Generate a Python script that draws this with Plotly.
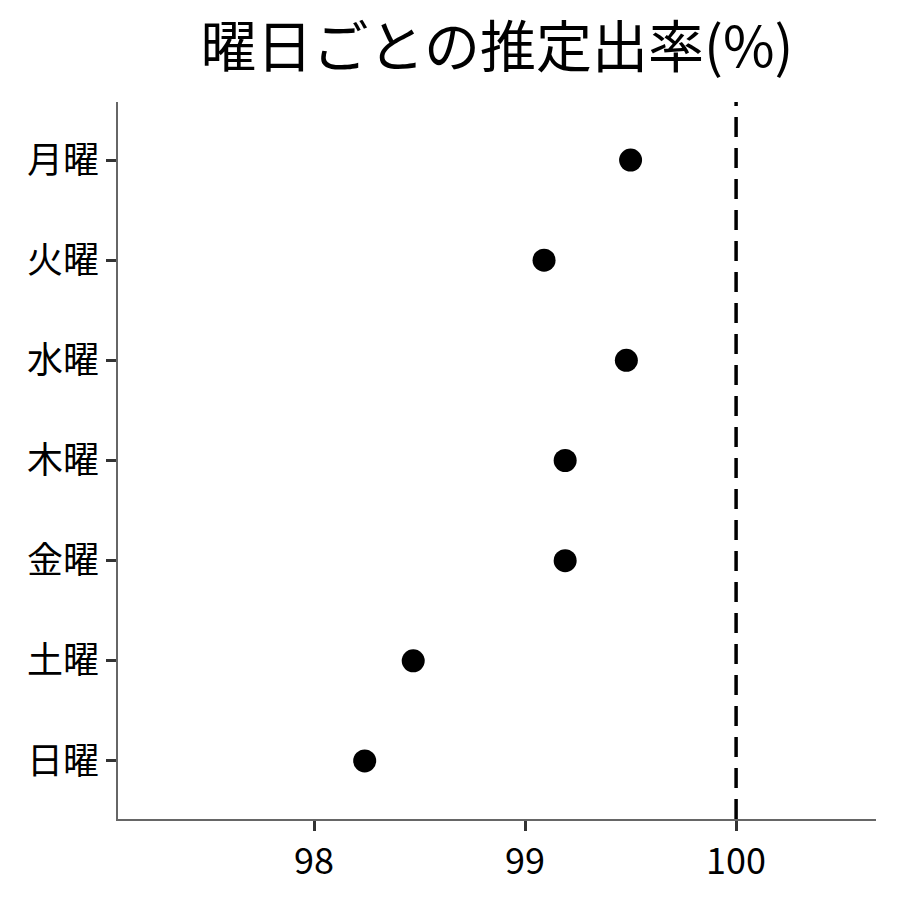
import plotly.graph_objects as go

# 曜日ごとの推定出率
days = ['月曜', '火曜', '水曜', '木曜', '金曜', '土曜', '日曜']
rates = [99.50, 99.09, 99.48, 99.19, 99.19, 98.47, 98.24]
ref_value = 100
x_ticks = [98, 99, 100]

font_family = 'Noto Sans CJK JP'

fig = go.Figure()

fig.add_trace(go.Scatter(
    x=rates,
    y=days,
    mode='markers',
    marker=dict(color='black', size=23),
    showlegend=False
))

# 100% reference line
fig.add_vline(x=ref_value, line=dict(color='black', width=3.5, dash='20px,11px'))

# page has an 8px body margin, so the figure is a bit smaller than the window
fig.update_layout(
    width=892, height=892,
    paper_bgcolor='white',
    plot_bgcolor='white',
    font=dict(family=font_family, color='black'),
    title=dict(text='曜日ごとの推定出率(%)', xref='paper', x=0.5, xanchor='center',
               y=0.956, yanchor='middle', font=dict(size=56, family=font_family)),
    margin=dict(l=110, r=24, t=94, b=81, autoexpand=False),
    xaxis=dict(
        range=[97.071, 100.663],
        tickvals=x_ticks,
        ticks='outside', ticklen=10, tickwidth=3, tickcolor='#333333',
        showline=True, linecolor='#666666', linewidth=1.5,
        showgrid=False, zeroline=False,
        tickfont=dict(size=36, family=font_family, color='black')
    ),
    yaxis=dict(
        categoryorder='array', categoryarray=days,
        autorange=False, range=[6.58, -0.58],
        ticks='outside', ticklen=10, tickwidth=3, tickcolor='#333333',
        showline=True, linecolor='#666666', linewidth=1.5,
        showgrid=False, zeroline=False,
        tickfont=dict(size=36, family=font_family, color='black')
    )
)

fig.write_html("out.html")
